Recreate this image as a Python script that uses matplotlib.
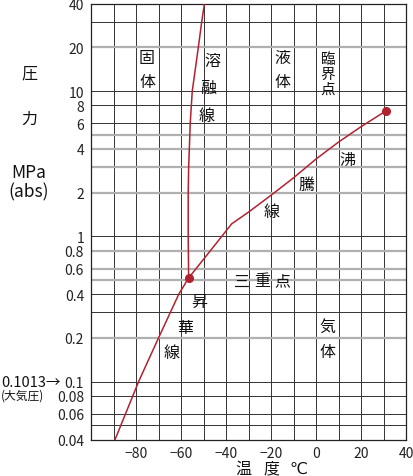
import numpy as np
import matplotlib
matplotlib.use("Agg")
import matplotlib.pyplot as plt

plt.rcParams['font.family'] = ['Noto Sans CJK JP', 'DejaVu Sans']

# Data (CO2 phase diagram)
sub_T = [-89.3, -78.7, -70.0, -61.0, -56.6]
sub_p = [0.04, 0.1013, 0.2, 0.4, 0.518]

melt_T = [-56.6, -56.8, -56.8, -56.6, -56.3, -55.9, -55.0, -52.3, -50.8, -49.6]
melt_p = [0.518, 1.0, 2.0, 3.0, 4.0, 6.0, 10.0, 20.0, 30.0, 40.0]

boil_T = [-56.6, -45.0, -37.5, -30.0, -20.0, -10.0, 0.0, 10.0, 20.0, 31.0]
boil_p = [0.518, 0.87, 1.22, 1.47, 1.92, 2.53, 3.41, 4.46, 5.69, 7.3]

triple = (-56.6, 0.518)
critical = (31.0, 7.3)

xticks = [-80, -60, -40, -20, 0, 20, 40]
yticks = [0.04, 0.06, 0.08, 0.1, 0.2, 0.4, 0.6, 0.8, 1, 2, 4, 6, 8, 10, 20, 40]
ytick_labels = ['0.04', '0.06', '0.08', '0.1', '0.2', '0.4', '0.6', '0.8', '1', '2', '4', '6', '8', '10', '20', '40']
hgrid_dark = [0.05, 0.06, 0.08, 0.1, 0.3, 0.4, 1, 6, 8, 10, 30]
hgrid_light = [0.2, 0.5, 0.6, 0.8, 2, 3, 4, 5, 20]
vgrid = list(range(-90, 40, 10))

W, H = 413, 477
fig = plt.figure(figsize=(W / 100, H / 100), dpi=100)
ax = fig.add_axes([91 / W, 1 - 440.5 / H, 315 / W, 435.8 / H])
ax.set_xlim(-100, 40)
ax.set_ylim(0.04, 40)
ax.set_yscale('log')

for v in vgrid:
    ax.axvline(v, color='#333333', lw=0.7, zorder=1)
for h in hgrid_dark:
    ax.axhline(h, color='#333333', lw=0.7, zorder=1)
for h in hgrid_light:
    ax.axhline(h, color='#b0b0b0', lw=1.6, zorder=1)

red = '#b2222e'
ax.plot(sub_T, sub_p, color=red, lw=1.1, zorder=3)
ax.plot(melt_T, melt_p, color=red, lw=1.1, zorder=3)
ax.plot(boil_T, boil_p, color=red, lw=1.1, zorder=3)
ax.plot([triple[0], critical[0]], [triple[1], critical[1]], 'o', color=red, ms=5.5, zorder=4, lw=0)

ax.set_xticks(xticks)
ax.set_xticklabels([str(t).replace('-', '\u2212') for t in xticks])
ax.set_yticks(yticks)
ax.set_yticklabels(ytick_labels)
ax.yaxis.set_minor_locator(matplotlib.ticker.NullLocator())
ax.tick_params(length=0, labelsize=10, colors='#222222', pad=5)
for s in ax.spines.values():
    s.set_color('#222222')
    s.set_linewidth(0.9)

def t(x, y, s, fs=11.5, **kw):
    fig.text(x / W, 1 - y / H, s, fontsize=fs, ha=kw.pop('ha', 'center'),
             va=kw.pop('va', 'center'), color='#111111', **kw)

# region labels
t(147, 59, '固'); t(147, 83, '体')
t(212, 61, '溶'); t(208, 88, '融'); t(207, 116, '線')
t(282, 58, '液'); t(282, 83, '体')
t(328, 60, '臨', fs=10.5); t(328, 74.5, '界', fs=10.5); t(328, 89.5, '点', fs=10.5)
t(347, 160, '沸'); t(307, 185, '騰'); t(272, 212, '線')
t(242, 282, '三'); t(262, 282, '重'); t(282, 282, '点')
t(199, 302, '昇'); t(185, 328, '華'); t(172, 353, '線')
t(327, 327, '気'); t(327, 353, '体')

# axis labels
t(29, 74, '圧'); t(29, 119, '力')
t(29, 173, 'MPa', fs=12.5); t(29, 192, '(abs)', fs=12.5)
t(61, 383, '0.1013\u2192', fs=10.5, ha='right')
t(44, 396, '(大気圧)', fs=8.5, ha='right')
t(243, 469, '温'); t(271, 469, '度')
t(298, 469, '℃', family=['DejaVu Sans'])

fig.savefig('out.png', dpi=100)
